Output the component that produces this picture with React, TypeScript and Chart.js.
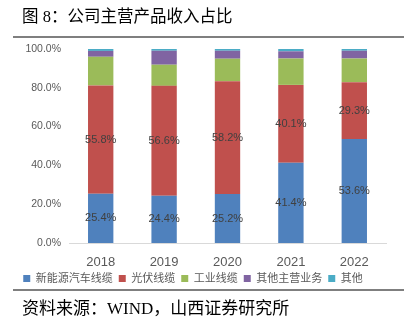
import React, { useEffect, useRef } from "react";
import { Chart, registerables } from "chart.js";

Chart.register(...registerables);

const years = ["2018", "2019", "2020", "2021", "2022"];
const seriesNames = ["新能源汽车线缆", "光伏线缆", "工业线缆", "其他主营业务", "其他"];
const nevCable = [25.4, 24.4, 25.2, 41.4, 53.6];
const pvCable = [55.8, 56.6, 58.2, 40.1, 29.3];
const industrialCable = [14.8, 10.9, 11.6, 13.6, 12.2];
const otherMain = [3.0, 7.2, 4.1, 3.7, 4.0];
const others = [1.0, 0.9, 0.9, 1.2, 0.9];
const yTicks = [0, 20, 40, 60, 80, 100];
const labeledSeries = [0, 1];

const colors = ["#4F81BD", "#C0504D", "#9BBB59", "#8064A2", "#4BACC6"];
const FONT = "'Liberation Sans', Arial, 'Noto Sans CJK SC', sans-serif";

const labelPlugin = {
  id: "segLabels",
  afterDatasetsDraw(chart: any) {
    const ctx = chart.ctx;
    ctx.save();
    ctx.font = `11px ${FONT}`;
    ctx.fillStyle = "#404040";
    ctx.textAlign = "center";
    ctx.textBaseline = "middle";
    labeledSeries.forEach((di) => {
      const meta = chart.getDatasetMeta(di);
      meta.data.forEach((el: any, i: number) => {
        const v = chart.data.datasets[di].data[i];
        const y = (el.y + el.base) / 2;
        ctx.fillText(v.toFixed(1) + "%", el.x, y);
      });
    });
    ctx.restore();
  },
};

function ChartBox() {
  const ref = useRef<HTMLCanvasElement>(null);
  useEffect(() => {
    const series = [nevCable, pvCable, industrialCable, otherMain, others];
    const chart = new Chart(ref.current!, {
      type: "bar",
      data: {
        labels: years,
        datasets: series.map((d, i) => ({
          label: seriesNames[i],
          data: d,
          backgroundColor: colors[i],
          borderWidth: 0,
          categoryPercentage: 1,
          barPercentage: 0.4,
        })),
      },
      options: {
        animation: false,
        responsive: false,
        maintainAspectRatio: false,
        layout: { padding: { top: 49, left: 0, right: 28, bottom: 32 } },
        plugins: {
          tooltip: { enabled: false },
          legend: {
            position: "bottom",
            labels: {
              boxWidth: 7,
              boxHeight: 7,
              padding: 6,
              color: "#595959",
              font: { size: 11, family: FONT },
            },
          },
        },
        scales: {
          x: {
            stacked: true,
            grid: { display: false, drawTicks: false },
            border: { display: true, color: "#D9D9D9", width: 1 },
            ticks: { color: "#595959", padding: 12, font: { size: 13, family: FONT } },
            afterFit: (s: any) => {
              s.height = 24;
            },
          },
          y: {
            stacked: true,
            min: 0,
            max: 100,
            afterBuildTicks: (s: any) => {
              s.ticks = yTicks.map((v) => ({ value: v }));
            },
            grid: { display: false, drawTicks: false },
            border: { display: false },
            ticks: {
              color: "#595959",
              padding: 8,
              font: { size: 10.5, family: FONT },
              callback: (v: any) => Number(v).toFixed(1) + "%",
            },
            afterFit: (s: any) => {
              s.width = 69;
            },
          },
        },
      },
      plugins: [labelPlugin],
    });
    return () => chart.destroy();
  }, []);
  return <canvas ref={ref} width={414} height={326} style={{ position: "absolute", left: 0, top: 0, width: 414, height: 326 }} />;
}

export default function App() {
  const textFont = "'Liberation Serif', 'Noto Sans CJK SC', serif";
  return (
    <div style={{ position: "absolute", left: 0, top: 0, width: 414, height: 326, background: "#fff", overflow: "hidden" }}>
      <ChartBox />
      <div style={{ position: "absolute", left: 22, top: 7, fontSize: 16.5, fontFamily: textFont, color: "#000", lineHeight: "20px", whiteSpace: "nowrap" }}>
        图 8：公司主营产品收入占比
      </div>
      <div style={{ position: "absolute", left: 13, top: 36, width: 391, height: 2, background: "#7f7f7f" }} />
      <div style={{ position: "absolute", left: 13, top: 289, width: 391, height: 2, background: "#7f7f7f" }} />
      <div style={{ position: "absolute", left: 22, top: 299, fontSize: 17, fontFamily: textFont, color: "#000", lineHeight: "20px", whiteSpace: "nowrap" }}>
        资料来源：WIND，山西证券研究所
      </div>
    </div>
  );
}
